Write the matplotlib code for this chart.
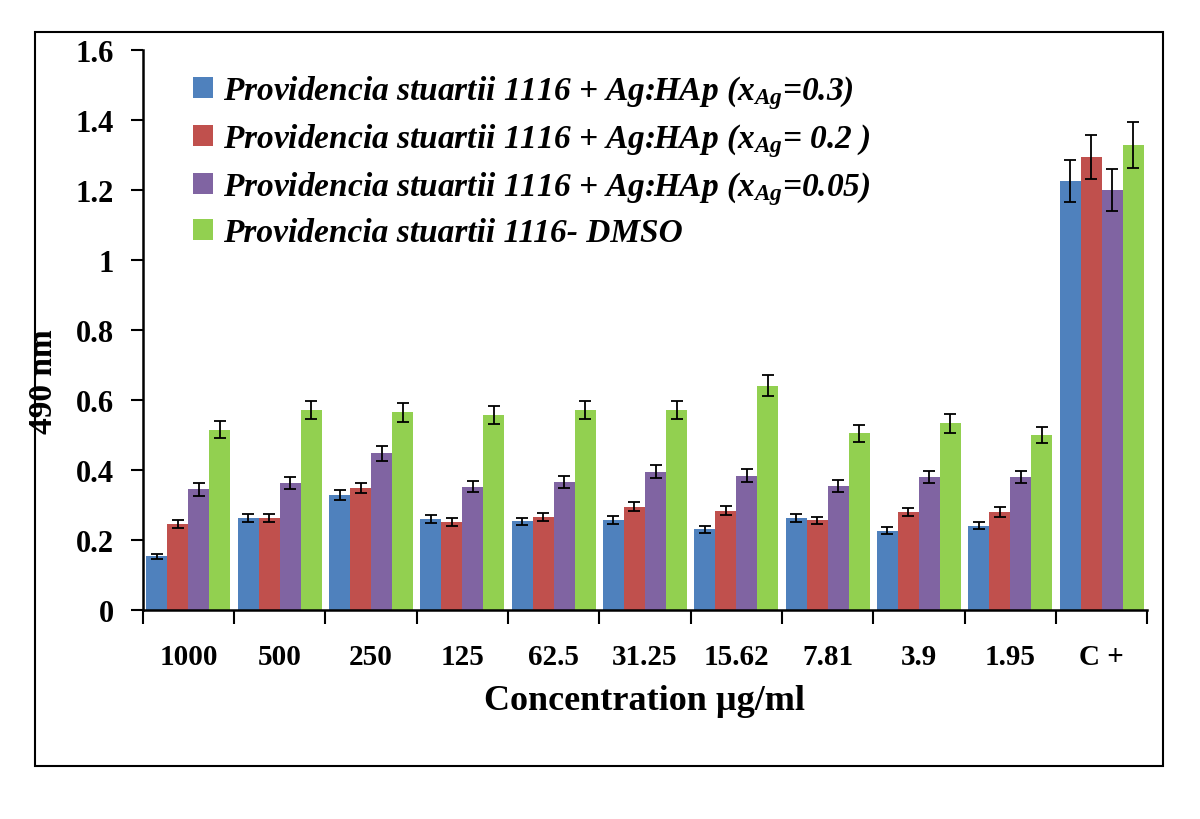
import numpy as np
import matplotlib.pyplot as plt
from matplotlib.patches import Rectangle

plt.rcParams['font.family'] = ['Liberation Serif', 'DejaVu Serif']
plt.rcParams['font.weight'] = 'bold'
plt.rcParams['mathtext.fontset'] = 'custom'
plt.rcParams['mathtext.it'] = 'Liberation Serif:italic:bold'
plt.rcParams['mathtext.rm'] = 'Liberation Serif:bold'

concentrations = ['1000', '500', '250', '125', '62.5', '31.25', '15.62', '7.81', '3.9', '1.95', 'C +']

labels = [r'Providencia stuartii 1116 + Ag:HAp ($x_{Ag}$=0.3)',
          r'Providencia stuartii 1116 + Ag:HAp ($x_{Ag}$= 0.2 )',
          r'Providencia stuartii 1116 + Ag:HAp ($x_{Ag}$=0.05)',
          'Providencia stuartii 1116- DMSO']
colors = ['#4F81BD', '#C0504D', '#8064A2', '#92D050']

x03 = [0.153, 0.262, 0.328, 0.260, 0.253, 0.257, 0.230, 0.262, 0.227, 0.241, 1.226]
x02 = [0.245, 0.262, 0.348, 0.252, 0.265, 0.295, 0.283, 0.256, 0.280, 0.280, 1.294]
x005 = [0.345, 0.363, 0.448, 0.352, 0.365, 0.395, 0.384, 0.355, 0.380, 0.380, 1.200]
dmso = [0.515, 0.572, 0.565, 0.558, 0.572, 0.572, 0.640, 0.505, 0.533, 0.500, 1.329]

err03 = [0.007, 0.012, 0.014, 0.011, 0.011, 0.011, 0.011, 0.011, 0.010, 0.011, 0.061]
err02 = [0.012, 0.012, 0.014, 0.012, 0.011, 0.013, 0.013, 0.011, 0.012, 0.013, 0.064]
err005 = [0.018, 0.017, 0.021, 0.016, 0.017, 0.019, 0.019, 0.017, 0.018, 0.017, 0.060]
err_dmso = [0.024, 0.025, 0.027, 0.026, 0.025, 0.025, 0.030, 0.024, 0.026, 0.024, 0.066]

series = [x03, x02, x005, dmso]
errors = [err03, err02, err005, err_dmso]

fig = plt.figure(figsize=(12, 8.2), dpi=100)
ax = fig.add_axes([0.119, 0.2549, 0.837, 0.6829])

x = np.arange(len(concentrations))
w = 0.23
for i in range(4):
    ax.bar(x + (i - 1.5) * w, series[i], w, color=colors[i], label=labels[i],
           yerr=errors[i], error_kw=dict(ecolor='black', elinewidth=1.3, capsize=4, capthick=1.3))

ax.set_xlim(-0.5, len(concentrations) - 0.5)
ax.set_ylim(0, 1.6)
ax.set_yticks(np.arange(0, 1.61, 0.2))
ax.set_yticklabels(['0', '0.2', '0.4', '0.6', '0.8', '1', '1.2', '1.4', '1.6'])
ax.set_xticks(x)
ax.set_xticklabels(concentrations)
ax.set_xticks(np.arange(-0.5, len(concentrations)), minor=True)
ax.tick_params(axis='x', which='major', length=0, pad=24, labelsize=21)
ax.tick_params(axis='x', which='minor', length=10, width=1.5, direction='out')
ax.tick_params(axis='y', length=9, width=1.5, direction='out', labelsize=22, pad=12)

for s in ['top', 'right']:
    ax.spines[s].set_visible(False)
for s in ['left', 'bottom']:
    ax.spines[s].set_linewidth(1.8)

ax.set_xlabel('Concentration µg/ml', fontsize=26, fontweight='bold', labelpad=10)
ax.set_ylabel('490 nm', fontsize=24, fontweight='bold')
ax.yaxis.set_label_coords(-0.083, 0.41)

leg = ax.legend(loc='upper left', bbox_to_anchor=(0.02, 1.012), frameon=False,
                prop={'family': 'Liberation Serif', 'style': 'italic', 'weight': 'bold', 'size': 24},
                handlelength=0.6, handleheight=0.6, handletextpad=0.3, labelspacing=0.3)

fig.patches.append(Rectangle((35 / 1200, 53 / 820), 1128 / 1200, 734 / 820,
                             transform=fig.transFigure, fill=False, edgecolor='black', linewidth=1.5))

plt.savefig('out.png', dpi=100)
